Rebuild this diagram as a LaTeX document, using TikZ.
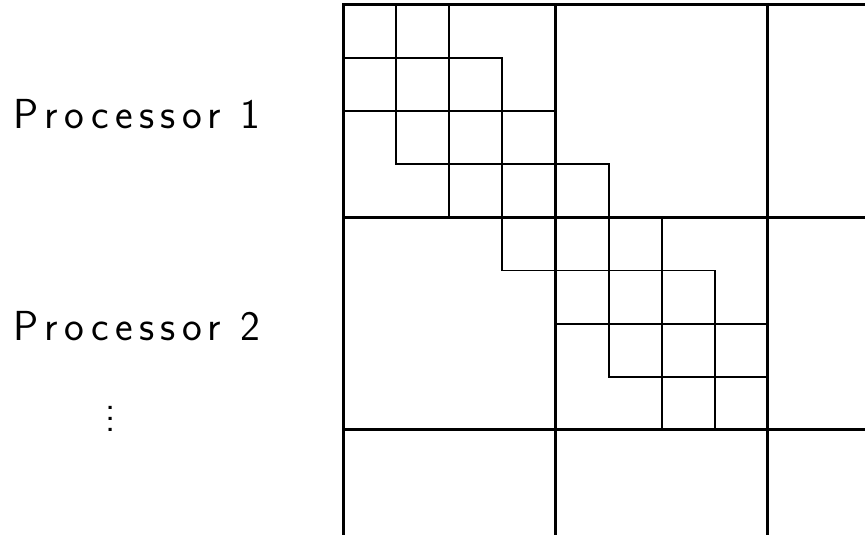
\documentclass[tikz,border=0pt]{standalone}
\usepackage{fontspec}
\usetikzlibrary{positioning}
\newfontfamily\procsf{Latin Modern Sans}[LetterSpace=15]
\newcommand{\procfont}{\procsf\fontsize{22.5}{27}\selectfont}

\begin{document}
\begin{tikzpicture}[
  blockline/.style={line width=1.6pt, line cap=rect},
  cellline/.style={line width=1.05pt, line cap=rect},
  proclabel/.style={anchor=west, inner sep=0pt, font=\procfont},
  morelabel/.style={inner sep=0pt,
               font=\sffamily\fontsize{21}{24}\selectfont},
]
\useasboundingbox (-6.46,0.094) rectangle (9.83,-9.98);

% processor blocks
\foreach \k in {0,4,8} {
  \draw[blockline] (\k,0) -- (\k,-10.3);
  \draw[blockline] (0,-\k) -- (10.1,-\k);
}

% banded fine cells
\foreach \k/\a/\b in {1/0/3, 2/0/4, 3/1/5, 5/3/7, 6/4/8, 7/5/8} {
  \draw[cellline] (\a,-\k) -- (\b,-\k);
  \draw[cellline] (\k,-\a) -- (\k,-\b);
}

\node[proclabel] (proc1) at (-6.215,-2.05) {Processor 1};
\node[proclabel] (proc2) at (-6.215,-6.05) {Processor 2};
\node[morelabel] (more) at (-4.375,-7.8)
  {\vbox{\baselineskip=5.8pt\lineskiplimit=-10pt\hbox{.}\hbox{.}\hbox{.}}};

\end{tikzpicture}
\end{document}
